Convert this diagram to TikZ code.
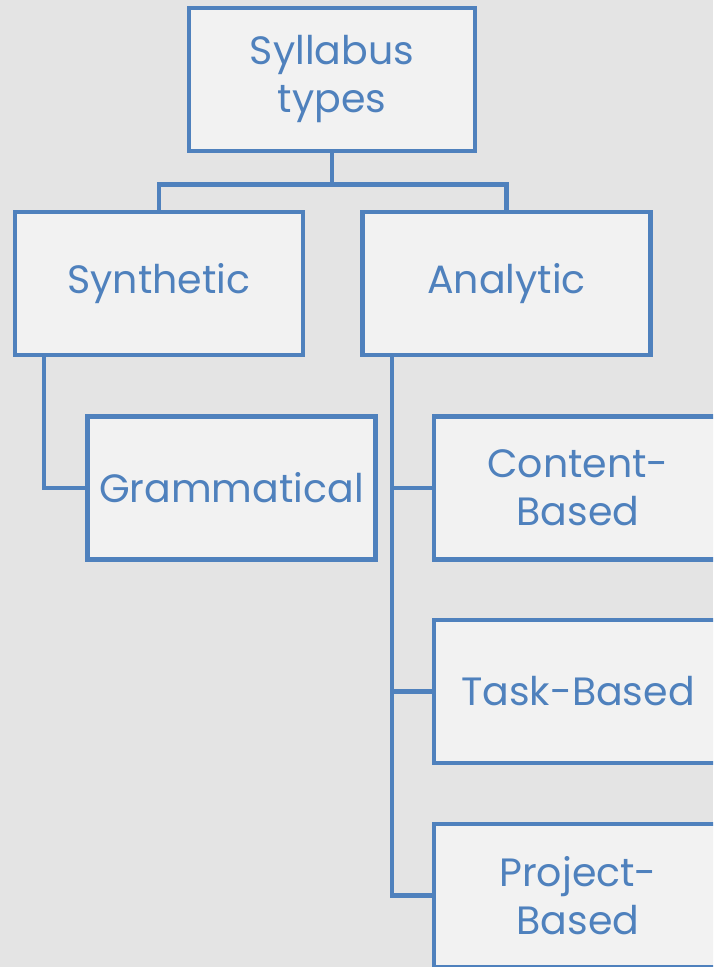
\documentclass[tikz,border=0pt]{standalone}
\usepackage{fontspec}
\setmainfont{Poppins}
\usepackage{xcolor}
\usepackage{tikz}
\definecolor{paper}{RGB}{228, 228, 228}
\definecolor{boxfill}{RGB}{242, 242, 242}
\definecolor{boxline}{RGB}{79, 129, 189}
\tikzset{
	typebox/.style={draw=boxline, fill=boxfill, line width=4.5pt, inner sep=0pt,
		minimum width=288pt, minimum height=143pt, text=boxline, align=center,
		font=\fontsize{39.5}{48}\selectfont},
	link/.style={draw=boxline, line width=4.5pt}
}

\begin{document}
\begin{tikzpicture}[x=1pt, y=-1pt]
		\useasboundingbox (0,0) rectangle (713,967);
		\clip (0,0) rectangle (713,967);
		\fill[paper] (0,0) rectangle (713,967);

		\node[typebox, minimum width=286pt] (types) at (332, 79.5) {Syllabus\\types};
		\node[typebox] (synth) at (159, 283.5) {Synthetic};
		\node[typebox] (anal) at (506.5, 283.5) {Analytic};
		\node[typebox] (gram) at (231.5, 488) {Grammatical};
		\node[typebox] (content) at (578, 488) {Content-\\Based};
		\node[typebox] (task) at (578, 691.5) {Task-Based};
		\node[typebox] (project) at (578, 895.5) {Project-\\Based};

		% top level
		\draw[link] (types.south) -- ++(0,31) -| (synth.north);
		\draw[link] (types.south) -- ++(0,31) -| (anal.north);

		% branches
		\draw[link] ([xshift=-115pt]synth.south) |- (gram.west);
		\draw[link] ([xshift=-114.5pt]anal.south) |- (content.west);
		\draw[link] ([xshift=-114.5pt]anal.south) |- (task.west);
		\draw[link] ([xshift=-114.5pt]anal.south) |- (project.west);
	\end{tikzpicture}
\end{document}
